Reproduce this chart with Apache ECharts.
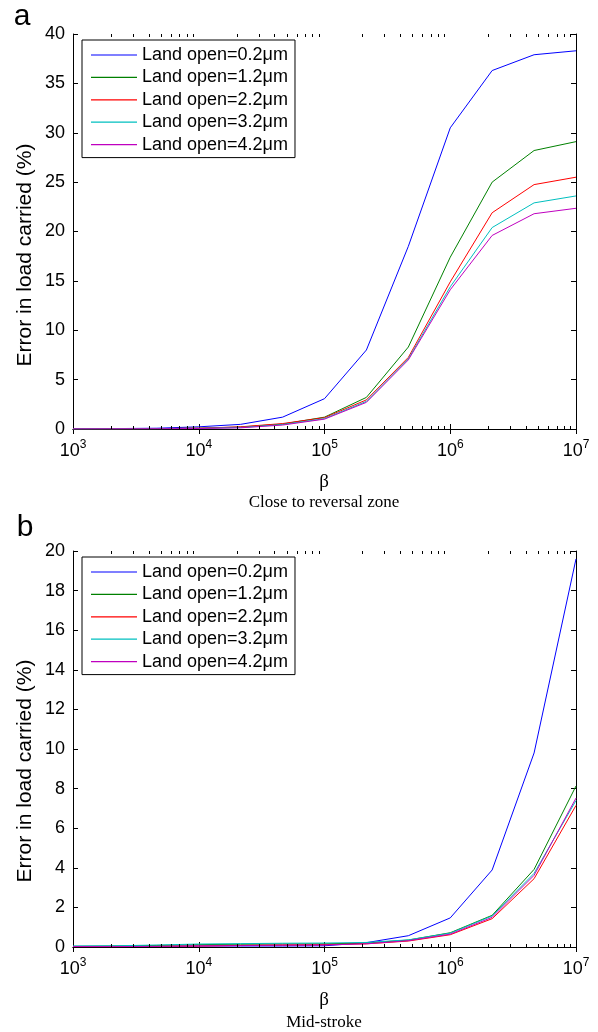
<!DOCTYPE html>
<html><head><meta charset="utf-8">
<script src="https://cdn.jsdelivr.net/npm/echarts@6/dist/echarts.min.js"></script>
<style>html,body{margin:0;padding:0;background:#fff}#c{width:598px;height:1032px}</style>
</head><body><div id="c"></div>
<script>
// ---- data ----
const betas = [1e3, 2.154e3, 4.642e3, 1e4, 2.154e4, 4.642e4, 1e5, 2.154e5, 4.642e5, 1e6, 2.154e6, 4.642e6, 1e7];
const seriesNames = ['Land open=0.2μm', 'Land open=1.2μm', 'Land open=2.2μm', 'Land open=3.2μm', 'Land open=4.2μm'];

// panel a: close to reversal zone
const a_02 = [0.02, 0.04, 0.08, 0.22, 0.47, 1.2, 3.07, 8.0, 18.5, 30.5, 36.3, 37.9, 38.3];
const a_12 = [0.01, 0.02, 0.04, 0.08, 0.2, 0.5, 1.2, 3.2, 8.3, 17.4, 25.0, 28.2, 29.1];
const a_22 = [0.01, 0.02, 0.04, 0.08, 0.22, 0.55, 1.15, 2.95, 7.25, 14.9, 21.9, 24.75, 25.5];
const a_32 = [0.01, 0.02, 0.03, 0.06, 0.15, 0.45, 1.05, 2.8, 7.1, 14.4, 20.4, 22.9, 23.6];
const a_42 = [0.01, 0.02, 0.03, 0.05, 0.12, 0.4, 1.0, 2.7, 7.0, 14.1, 19.6, 21.8, 22.35];

// panel b: mid-stroke
const b_02 = [0.03, 0.03, 0.03, 0.05, 0.05, 0.05, 0.06, 0.22, 0.57, 1.47, 3.89, 9.8, 19.6];
const b_12 = [0.03, 0.05, 0.08, 0.12, 0.14, 0.15, 0.16, 0.2, 0.35, 0.72, 1.6, 3.92, 8.13];
const b_22 = [0.02, 0.02, 0.03, 0.05, 0.08, 0.1, 0.12, 0.16, 0.3, 0.62, 1.43, 3.45, 7.15];
const b_32 = [0.05, 0.06, 0.1, 0.15, 0.17, 0.19, 0.2, 0.23, 0.36, 0.7, 1.57, 3.72, 7.4];
const b_42 = [0.02, 0.02, 0.03, 0.05, 0.07, 0.09, 0.1, 0.16, 0.32, 0.65, 1.5, 3.62, 7.52];

const xMin = 1e3, xMax = 1e7;
const yMaxA = 40, yStepA = 5;
const yMaxB = 20, yStepB = 2;
const yLabel = 'Error in load carried (%)';
const xName = 'β';
const captionA = 'Close to reversal zone';
const captionB = 'Mid-stroke';

// minor log ticks 2..9 x 10^k
const minorTicks = [];
for (let k = 3; k < 7; k++) for (let m = 2; m <= 9; m++) minorTicks.push(m * Math.pow(10, k));

// ---- styles ----
const colors = ['#0000ff', '#008000', '#ff0000', '#00bfbf', '#bf00bf'];
const SANS = 'Liberation Sans, Arial, sans-serif';
const SERIF = 'Liberation Serif, Times New Roman, serif';

const chart = echarts.init(document.getElementById('c'), null, {renderer: 'canvas'});

function xAx(grid, pos) {
  return {
    type: 'log', logBase: 10, gridIndex: grid, position: pos, min: xMin, max: xMax,
    axisLine: {show: true, lineStyle: {color: '#000', width: 1}},
    axisTick: {show: true, inside: true, length: 5, lineStyle: {color: '#000'}},
    splitLine: {show: false}, minorTick: {show: false},
    axisLabel: {
      show: pos === 'bottom', margin: 10,
      formatter: v => '{b|10}{s|' + Math.round(Math.log10(v)) + '}',
      rich: {
        b: {fontSize: 18, fontFamily: SANS, color: '#000', lineHeight: 24},
        s: {fontSize: 12, fontFamily: SANS, color: '#000', lineHeight: 6, verticalAlign: 'top'}
      }
    }
  };
}
function yAx(grid, pos, max, step) {
  return {
    type: 'value', gridIndex: grid, position: pos, min: 0, max: max, interval: step,
    axisLine: {show: true, lineStyle: {color: '#000', width: 1}},
    axisTick: {show: true, inside: true, length: 5, lineStyle: {color: '#000'}},
    splitLine: {show: false},
    axisLabel: {show: pos === 'left', margin: 8, fontSize: 18, fontFamily: SANS, color: '#000'}
  };
}
function lines(arrs, xi, yi) {
  return arrs.map((arr, i) => ({
    type: 'line', name: seriesNames[i], xAxisIndex: xi, yAxisIndex: yi,
    data: betas.map((b, j) => [b, arr[j]]),
    showSymbol: false, symbol: 'none', color: colors[i],
    lineStyle: {width: 1, color: colors[i]}, silent: true
  }));
}
function minor(xi, yi) {
  return {
    type: 'custom', xAxisIndex: xi, yAxisIndex: yi, silent: true, clip: false, z: 5,
    data: minorTicks.map(v => [v, 0]),
    renderItem: (params, api) => {
      const p = api.coord([api.value(0), api.value(1)]);
      const cs = params.coordSys;
      const x = Math.round(p[0]) + 0.5;
      const yb = cs.y + cs.height, yt = cs.y;
      return {type: 'group', children: [
        {type: 'line', shape: {x1: x, y1: yb, x2: x, y2: yb - 3}, style: {stroke: '#000', lineWidth: 1}},
        {type: 'line', shape: {x1: x, y1: yt, x2: x, y2: yt + 3}, style: {stroke: '#000', lineWidth: 1}}
      ]};
    }
  };
}
function legend(top) {
  return {
    data: seriesNames, orient: 'vertical', left: 82, top: top,
    padding: [6, 7, 4, 9], itemGap: 4.4, itemWidth: 46, itemHeight: 1.2, icon: 'rect',
    textStyle: {fontSize: 18, fontFamily: SANS, color: '#000', lineHeight: 18},
    borderColor: '#000', borderWidth: 1, backgroundColor: '#fff', borderRadius: 0,
    selectedMode: false, z: 10
  };
}
function txt(x, y, text, size, family, rot) {
  return {type: 'text', x: x, y: y, rotation: rot || 0, z: 20,
    style: {text: text, fontSize: size, fontFamily: family, fill: '#000', textAlign: 'center', textVerticalAlign: 'middle'}};
}

chart.setOption({
  animation: false,
  backgroundColor: '#fff',
  grid: [
    {left: 73, top: 34, width: 503, height: 395},
    {left: 73, top: 551, width: 503, height: 396}
  ],
  xAxis: [xAx(0, 'bottom'), xAx(0, 'top'), xAx(1, 'bottom'), xAx(1, 'top')],
  yAxis: [yAx(0, 'left', yMaxA, yStepA), yAx(0, 'right', yMaxA, yStepA), yAx(1, 'left', yMaxB, yStepB), yAx(1, 'right', yMaxB, yStepB)],
  legend: [legend(40), legend(557)],
  series: [
    ...lines([a_02, a_12, a_22, a_32, a_42], 0, 0),
    ...lines([b_02, b_12, b_22, b_32, b_42], 2, 2),
    minor(0, 0), minor(2, 2)
  ],
  graphic: [
    txt(22, 17, 'a', 30, SANS),
    txt(25, 528, 'b', 30, SANS),
    txt(25, 255, yLabel, 21, SANS, Math.PI / 2),
    txt(25, 771, yLabel, 21, SANS, Math.PI / 2),
    txt(324, 482, xName, 19, SERIF),
    txt(324, 503, captionA, 17, SERIF),
    txt(324, 1000, xName, 19, SERIF),
    txt(324, 1023, captionB, 17, SERIF)
  ]
});
</script></body></html>
